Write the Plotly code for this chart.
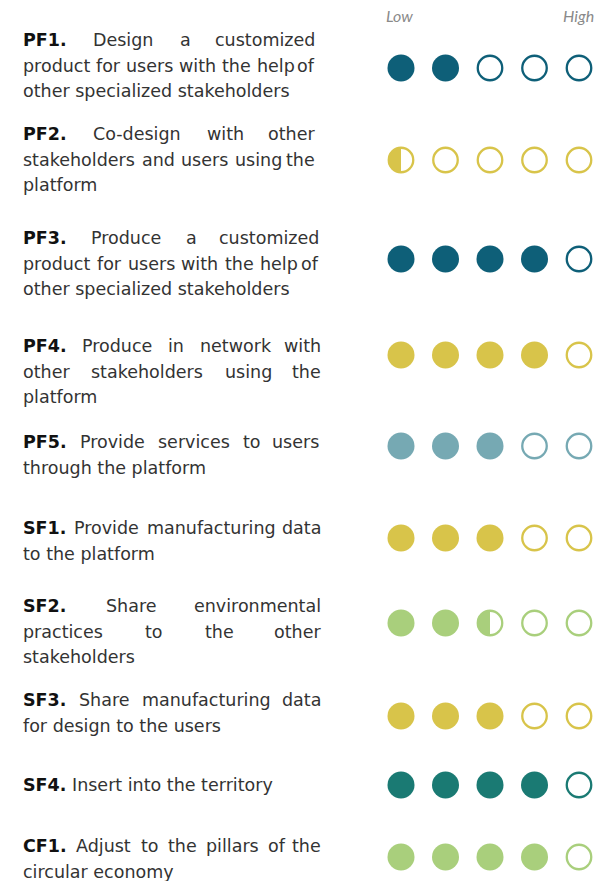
import plotly.graph_objects as go
import math

# ---------------- data ----------------
codes = ["PF1.", "PF2.", "PF3.", "PF4.", "PF5.", "SF1.", "SF2.", "SF3.", "SF4.", "CF1."]
texts = [
    ["Design a customized", "product for users with the help of", "other specialized stakeholders"],
    ["Co-design with other", "stakeholders and users using the", "platform"],
    ["Produce a customized", "product for users with the help of", "other specialized stakeholders"],
    ["Produce in network with", "other stakeholders using the", "platform"],
    ["Provide services to users", "through the platform"],
    ["Provide manufacturing data", "to the platform"],
    ["Share environmental", "practices to the other", "stakeholders"],
    ["Share manufacturing data", "for design to the users"],
    ["Insert into the territory"],
    ["Adjust to the pillars of the", "circular economy"],
]
levels = [2, 0.5, 4, 4, 3, 3, 2.5, 3, 4, 4]
scale_labels = ["Low", "High"]
n_levels = 5

# ---------------- styles / layout ----------------
colors = ["#0e5f78", "#d8c44a", "#0e5f78", "#d8c44a", "#76a9b3",
          "#d8c44a", "#a9cf7c", "#d8c44a", "#1a7a73", "#a9cf7c"]
right_edges = [316, 316, 320, 322, 320, 322, 322, 322, 322, 322]
text_top = [40, 134, 238, 346, 442, 528, 606, 700, 785, 846]
dot_y = [68, 160, 259, 355, 446, 538, 623, 716, 785, 857]
line_h = 25.7
x_left = 22
dot_x0, dot_step = 401, 44.5
dot_size = 27
FS = 17.5
FONT = "DejaVu Sans"
TXT_COL = "#333333"

W_REG = {' ': 651, 'a': 1255, 'b': 1300, 'c': 1126, 'd': 1300, 'e': 1260, 'f': 721, 'g': 1300,
         'h': 1298, 'i': 569, 'j': 569, 'k': 1186, 'l': 569, 'm': 1995, 'n': 1298, 'o': 1253,
         'p': 1300, 'q': 1300, 'r': 842, 's': 1067, 't': 803, 'u': 1298, 'v': 1212, 'w': 1675,
         'x': 1212, 'y': 1212, 'z': 1075, '-': 739, '.': 651, 'A': 1401, 'C': 1430, 'D': 1577,
         'I': 604, 'P': 1235, 'S': 1300}
W_BOLD = {' ': 713, 'P': 1499, 'F': 1402, 'S': 1477, 'C': 1505, '.': 780}


def width(s, bold=False):
    tot = 0
    for ch in s:
        if bold:
            tot += W_BOLD.get(ch, 1425)
        else:
            tot += W_REG.get(ch, 1250)
    return tot / 2048 * FS


fig = go.Figure()
annotations = []


def add_text(x, y, s, anchor="left", bold=False):
    annotations.append(dict(
        x=x, y=y, xref="x", yref="y", text=("<b>%s</b>" % s) if bold else s,
        showarrow=False, xanchor=anchor, yanchor="middle", borderpad=0,
        font=dict(family=FONT, size=FS, color="#111111" if bold else TXT_COL)))


for r, (code, lines) in enumerate(zip(codes, texts)):
    x1 = right_edges[r]
    for li, line in enumerate(lines):
        y = text_top[r] + li * line_h
        tokens = [(w, False) for w in line.split(" ")]
        if li == 0:
            tokens = [(code, True)] + tokens
        last = (li == len(lines) - 1)
        if last:
            if li == 0:
                add_text(x_left, y, code, bold=True)
                add_text(x_left + width(code, True) + width(" "), y, line)
            else:
                add_text(x_left, y, line)
            continue
        widths = [width(t, b) for t, b in tokens]
        gap = (x1 - x_left - sum(widths)) / (len(tokens) - 1)
        x = x_left
        for k, ((t, b), w) in enumerate(zip(tokens, widths)):
            if k == len(tokens) - 1:
                add_text(x1, y, t, anchor="right", bold=b)
            else:
                add_text(x, y, t, anchor="left", bold=b)
            x += w + gap

# Low / High
annotations.append(dict(
    x=dot_x0 - 16, y=15, xref="x", yref="y", text="<i>%s</i>" % scale_labels[0],
    showarrow=False, xanchor="left", yanchor="middle", borderpad=0,
    font=dict(family="Lato", size=16, color="#8a8a8a")))
annotations.append(dict(
    x=dot_x0 + (n_levels - 1) * dot_step + 16, y=15, xref="x", yref="y",
    text="<i>%s</i>" % scale_labels[1], borderpad=0,
    showarrow=False, xanchor="right", yanchor="middle",
    font=dict(family="Lato", size=16, color="#8a8a8a")))

# dots
fx, fy, fc = [], [], []
ox, oy, oc = [], [], []
halves = []
for r, v in enumerate(levels):
    for i in range(n_levels):
        cx = dot_x0 + i * dot_step
        cy = dot_y[r]
        if i + 1 <= v:
            fx.append(cx); fy.append(cy); fc.append(colors[r])
        else:
            ox.append(cx); oy.append(cy); oc.append(colors[r])
            if i < v:
                halves.append((cx, cy, colors[r]))

fig.add_trace(go.Scatter(x=fx, y=fy, mode="markers", hoverinfo="skip",
                         marker=dict(symbol="circle", size=dot_size, color=fc, line=dict(width=0))))
rad = dot_size / 2 - 0.5
for cx, cy, c in halves:
    px, py = [], []
    for k in range(41):
        a = math.pi / 2 + math.pi * k / 40
        px.append(cx + rad * math.cos(a))
        py.append(cy - rad * math.sin(a))
    fig.add_trace(go.Scatter(x=px, y=py, mode="lines", fill="toself", fillcolor=c,
                             line=dict(width=0, color=c), hoverinfo="skip"))
fig.add_trace(go.Scatter(x=ox, y=oy, mode="markers", hoverinfo="skip",
                         marker=dict(symbol="circle-open", size=dot_size - 2.5, color=oc,
                                     line=dict(width=2.3, color=oc))))

fig.update_layout(
    width=596, height=881, margin=dict(l=0, r=0, t=0, b=0),
    paper_bgcolor="white", plot_bgcolor="white", showlegend=False,
    annotations=annotations,
    xaxis=dict(range=[0, 596], visible=False, fixedrange=True),
    yaxis=dict(range=[881, 0], visible=False, fixedrange=True),
)
fig.write_html("out.html", config={"displayModeBar": False},
               post_script="document.body.style.margin='0';document.body.style.overflow='hidden';")
